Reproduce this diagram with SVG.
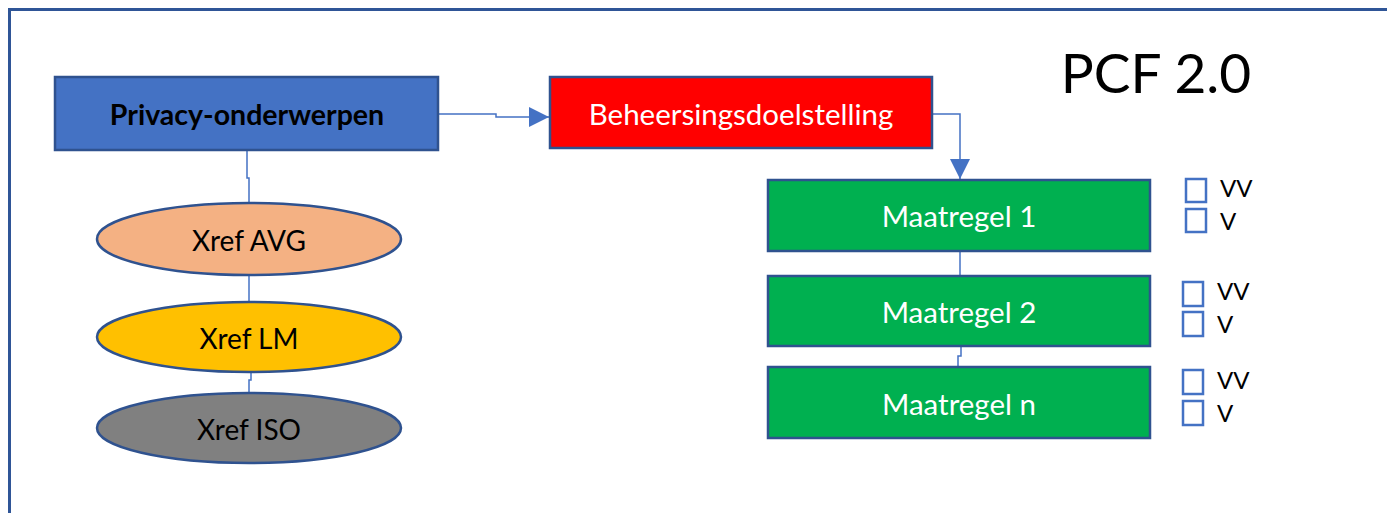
<svg xmlns="http://www.w3.org/2000/svg" width="1387" height="513" viewBox="0 0 1387 513">
<defs>
<style>
.frame{stroke:#2F5597;stroke-width:3;fill:none}
.box{stroke:#2F528F;stroke-width:2.5}
.ell{stroke:#2F528F;stroke-width:2.5}
.con{stroke:#4472C4;stroke-width:1.5;fill:none}
.chk{stroke:#4472C4;stroke-width:2.5;fill:none}
text{font-family:Lato,"Open Sans","Liberation Sans",sans-serif}
.lbl{font-size:29.5px;text-anchor:middle;dominant-baseline:central}
.w{fill:#FFFFFF}
.k{fill:#000000}
.opt{font-size:24px;fill:#000000}
</style>
<marker id="arr" viewBox="0 0 20 20" refX="20" refY="10" markerWidth="20" markerHeight="20" markerUnits="userSpaceOnUse" orient="auto">
<path d="M0,0 L20,10 L0,20 Z" fill="#4472C4"/>
</marker>
</defs>
<rect width="1387" height="513" fill="#FFFFFF"/>
<path class="frame" d="M9.5,513 L9.5,9.5 L1387,9.5"/>
<text x="1156" y="93" font-size="55" text-anchor="middle" class="k">PCF 2.0</text>

<g id="connectors">
<path class="con" d="M438,114 L496,114 L496,117 L549,117" marker-end="url(#arr)"/>
<path class="con" d="M932,114 L960,114 L960,179" marker-end="url(#arr)"/>
<path class="con" d="M247,150 L247,178 L249,178 L249,203"/>
<path class="con" d="M249,275 L249,302"/>
<path class="con" d="M251,372 L251,380 L249,380 L249,392"/>
<path class="con" d="M960,251 L960,276"/>
<path class="con" d="M961,346 L961,356 L958,356 L958,367"/>
</g>

<g id="privacy">
<rect class="box" x="55" y="77" width="383" height="73" fill="#4472C4"/>
<text class="lbl k" x="247" y="114" font-weight="bold" style="font-size:28.5px">Privacy-onderwerpen</text>
</g>
<g id="beheer">
<rect class="box" x="550" y="77" width="382" height="71" fill="#FF0000"/>
<text class="lbl w" x="741" y="113">Beheersingsdoelstelling</text>
</g>
<g id="xref-avg">
<ellipse class="ell" cx="249" cy="239" rx="152" ry="36" fill="#F4B183"/>
<text class="lbl k" x="249" y="240" style="font-size:28px">Xref AVG</text>
</g>
<g id="xref-lm">
<ellipse class="ell" cx="249" cy="337" rx="152" ry="35" fill="#FFC000"/>
<text class="lbl k" x="249" y="338" style="font-size:28px">Xref LM</text>
</g>
<g id="xref-iso">
<ellipse class="ell" cx="249" cy="428" rx="152" ry="35" fill="#808080"/>
<text class="lbl k" x="249" y="429" style="font-size:28px">Xref ISO</text>
</g>
<g id="maatregel-1">
<rect class="box" x="768" y="180" width="382" height="71" fill="#00B050"/>
<text class="lbl w" x="959" y="215">Maatregel 1</text>
</g>
<g id="maatregel-2">
<rect class="box" x="768" y="276" width="382" height="70" fill="#00B050"/>
<text class="lbl w" x="959" y="311">Maatregel 2</text>
</g>
<g id="maatregel-n">
<rect class="box" x="768" y="367" width="382" height="71" fill="#00B050"/>
<text class="lbl w" x="959" y="403">Maatregel n</text>
</g>

<g id="opties-1">
<rect class="chk" x="1186" y="179" width="20" height="23"/>
<rect class="chk" x="1186" y="209" width="20" height="23"/>
<text class="opt" x="1220" y="197">VV</text>
<text class="opt" x="1220" y="230">V</text>
</g>
<g id="opties-2">
<rect class="chk" x="1183" y="282" width="20" height="24"/>
<rect class="chk" x="1183" y="312" width="20" height="24"/>
<text class="opt" x="1217" y="300">VV</text>
<text class="opt" x="1217" y="333">V</text>
</g>
<g id="opties-n">
<rect class="chk" x="1183" y="370" width="20" height="24"/>
<rect class="chk" x="1183" y="401" width="20" height="24"/>
<text class="opt" x="1217" y="389">VV</text>
<text class="opt" x="1217" y="422">V</text>
</g>
</svg>
